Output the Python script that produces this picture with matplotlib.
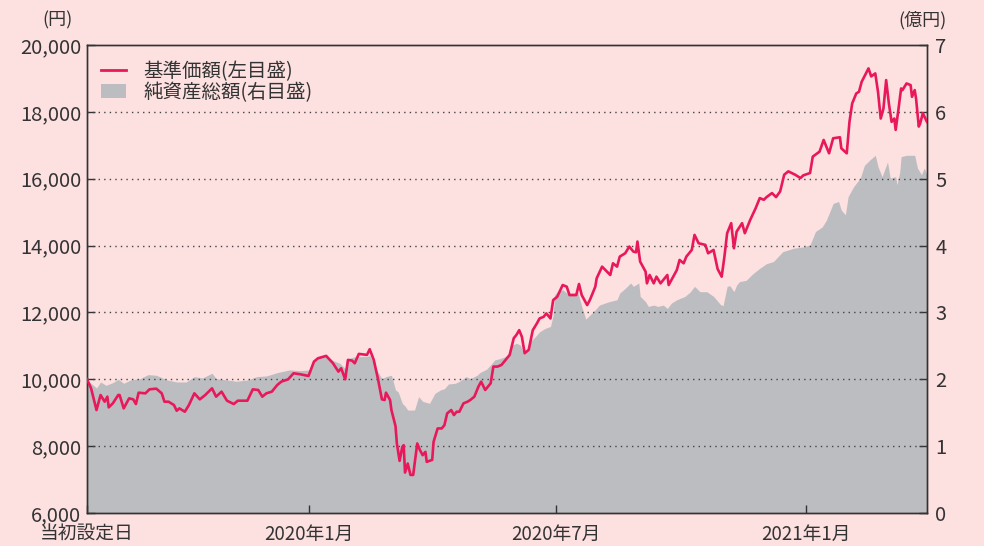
import matplotlib
matplotlib.use("Agg")
import matplotlib.pyplot as plt
import matplotlib.dates as mdates
from matplotlib.patches import Patch
from matplotlib.lines import Line2D
import pandas as pd

plt.rcParams['font.family'] = ['Noto Sans CJK JP', 'DejaVu Sans']

start_date = "2019-07-22"

# 基準価額 (円): day offset from 当初設定日, value
nav_days = [0, 3, 7, 10, 13, 15, 16, 19, 23, 24, 27, 31, 34, 36, 38, 43, 46, 51, 55, 57,
            60, 64, 66, 68, 72, 75, 79, 83, 87, 92, 95, 99, 103, 108, 111, 118, 122, 126, 129, 132,
            136, 140, 143, 148, 152, 157, 163, 167, 170, 176, 181, 185, 187, 190, 192, 195, 197, 200, 206, 208,
            211, 214, 217, 219, 220, 223, 224, 227, 228, 230, 232, 233, 234, 236, 238, 240, 243, 245, 247, 249,
            250, 254, 255, 258, 261, 263, 265, 268, 270, 272, 274, 277, 280, 282, 285, 288, 290, 293, 297, 299,
            302, 305, 308, 311, 314, 316, 318, 320, 322, 325, 328, 331, 333, 336, 338, 341, 343, 346, 350, 353,
            355, 360, 362, 364, 368, 370, 374, 375, 379, 385, 387, 390, 392, 396, 399, 402, 404, 405, 407, 411,
            412, 414, 417, 419, 422, 427, 428, 434, 436, 439, 441, 445, 447, 450, 455, 457, 461, 464, 467, 469,
            471, 474, 476, 478, 482, 484, 488, 492, 495, 498, 500, 504, 507, 510, 513, 516, 521, 525, 527, 532,
            533, 534, 539, 542, 544, 546, 549, 554, 555, 559, 561, 563, 566, 568, 570, 572, 575, 577, 580, 582,
            584, 586, 588, 590, 592, 594, 595, 597, 599, 600, 603, 606, 607, 609, 610, 612, 613, 615, 618]
nav_values = [10000, 9730, 9080, 9530, 9330, 9480, 9160, 9280, 9530, 9530, 9130, 9430, 9400, 9260, 9600, 9580, 9700, 9720, 9580, 9330,
              9330, 9230, 9060, 9130, 9030, 9230, 9580, 9400, 9530, 9730, 9480, 9630, 9360, 9260, 9360, 9360, 9700, 9680, 9480, 9580,
              9630, 9830, 9930, 10000, 10180, 10150, 10100, 10530, 10630, 10700, 10480, 10230, 10330, 10000, 10580, 10560, 10480, 10760, 10730, 10900,
              10580, 10030, 9400, 9380, 9600, 9380, 9080, 8600, 8080, 7560, 7980, 8030, 7210, 7480, 7140, 7140, 8080, 7880, 7730, 7830,
              7530, 7590, 8130, 8530, 8530, 8630, 8980, 9080, 8930, 9030, 9030, 9280, 9330, 9380, 9480, 9780, 9930, 9680, 9880, 10380,
              10380, 10430, 10580, 10730, 11230, 11330, 11470, 11270, 10780, 10880, 11470, 11670, 11820, 11870, 11970, 11820, 12370, 12470, 12820, 12770,
              12520, 12520, 12850, 12520, 12220, 12370, 12770, 13020, 13370, 13120, 13470, 13370, 13670, 13770, 13970, 13820, 13800, 14120, 13520, 13220,
              12870, 13120, 12870, 13070, 12870, 13120, 12820, 13270, 13570, 13470, 13670, 13870, 14320, 14070, 14020, 13770, 13870, 13300, 13070, 13670,
              14370, 14670, 13920, 14420, 14670, 14370, 14770, 15120, 15420, 15370, 15450, 15570, 15450, 15620, 16120, 16220, 16120, 16020, 16100, 16170,
              16410, 16660, 16810, 17160, 16960, 16760, 17210, 17240, 16910, 16760, 17700, 18250, 18550, 18600, 18900, 19060, 19300, 19060, 19150, 18600,
              17800, 18100, 18950, 18250, 17700, 17800, 17460, 18060, 18700, 18650, 18850, 18800, 18450, 18650, 18400, 17560, 17650, 17960, 17700]

# 純資産総額 (億円): day offset from 当初設定日, value
aum_days = [0, 3, 7, 10, 14, 19, 23, 27, 32, 39, 45, 51, 59, 66, 73, 79, 85, 92, 95, 103,
            110, 118, 125, 132, 140, 149, 157, 164, 167, 171, 176, 181, 186, 190, 192, 198, 206, 208, 211, 213,
            217, 220, 224, 227, 229, 232, 234, 236, 241, 244, 247, 252, 256, 260, 263, 266, 271, 274, 279, 282,
            287, 289, 294, 298, 300, 304, 308, 311, 313, 316, 319, 321, 324, 326, 330, 333, 337, 341, 343, 344,
            346, 350, 353, 358, 361, 364, 367, 370, 374, 377, 384, 390, 392, 396, 400, 402, 406, 407, 411, 413,
            417, 420, 424, 427, 430, 434, 440, 444, 447, 451, 456, 461, 466, 468, 471, 473, 476, 478, 480, 485,
            490, 495, 500, 505, 512, 520, 527, 532, 536, 541, 544, 549, 553, 555, 558, 560, 564, 569, 572, 576,
            580, 582, 585, 589, 591, 595, 596, 598, 599, 603, 609, 611, 614, 616, 618]
aum_values = [2.00, 1.94, 1.87, 1.96, 1.91, 1.95, 2.00, 1.94, 1.99, 2.01, 2.07, 2.06, 1.99, 1.96, 1.96, 2.04, 2.02, 2.09, 2.01, 1.99,
              1.97, 1.99, 2.04, 2.05, 2.10, 2.14, 2.13, 2.14, 2.26, 2.34, 2.36, 2.28, 2.24, 2.16, 2.31, 2.34, 2.34, 2.36, 2.24, 2.14,
              2.01, 2.04, 2.06, 1.84, 1.81, 1.64, 1.60, 1.54, 1.54, 1.74, 1.67, 1.64, 1.79, 1.84, 1.86, 1.93, 1.94, 1.97, 2.04, 2.01,
              2.06, 2.10, 2.15, 2.24, 2.29, 2.31, 2.34, 2.39, 2.51, 2.54, 2.51, 2.39, 2.44, 2.56, 2.64, 2.71, 2.76, 2.79, 2.96, 3.26,
              3.31, 3.34, 3.29, 3.29, 3.31, 3.09, 2.90, 2.96, 3.04, 3.11, 3.16, 3.19, 3.29, 3.36, 3.44, 3.39, 3.44, 3.24, 3.16, 3.09,
              3.11, 3.09, 3.11, 3.06, 3.14, 3.19, 3.24, 3.31, 3.39, 3.31, 3.31, 3.24, 3.12, 3.10, 3.39, 3.40, 3.31, 3.41, 3.46, 3.48,
              3.58, 3.66, 3.73, 3.76, 3.91, 3.96, 3.98, 4.01, 4.21, 4.28, 4.38, 4.63, 4.66, 4.53, 4.46, 4.73, 4.88, 5.01, 5.20, 5.28,
              5.35, 5.18, 5.03, 5.25, 5.01, 5.03, 4.91, 5.10, 5.33, 5.35, 5.35, 5.16, 5.06, 5.16, 5.06]

tick_dates = ["2019-07-22", "2020-01-01", "2020-07-01", "2021-01-01"]
tick_labels = ["当初設定日", "2020年1月", "2020年7月", "2021年1月"]
left_ticks = [6000, 8000, 10000, 12000, 14000, 16000, 18000, 20000]
right_ticks = [0, 1, 2, 3, 4, 5, 6, 7]

series_names = ["基準価額(左目盛)", "純資産総額(右目盛)"]

t0 = pd.Timestamp(start_date)
nav_x = t0 + pd.to_timedelta(nav_days, unit="D")
aum_x = t0 + pd.to_timedelta(aum_days, unit="D")

bg = "#fde0e0"
line_color = "#e8185a"
area_color = "#bcbdc1"
text_color = "#333333"

fig = plt.figure(figsize=(9.84, 5.46), dpi=100, facecolor=bg)
ax = fig.add_axes([0.0884, 0.0604, 0.8536, 0.8572])
ax2 = ax.twinx()

ax2.fill_between(aum_x, 0, aum_values, color=area_color, linewidth=0)
ax2.set_ylim(0, 7)
ax2.set_yticks(right_ticks)
ax2.set_yticklabels([str(v) for v in right_ticks])

ax.set_zorder(ax2.get_zorder() + 1)
ax.patch.set_visible(False)
ax2.set_facecolor("white")

ax.plot(nav_x, nav_values, color=line_color, linewidth=1.9, zorder=3, solid_joinstyle="round")
ax.set_ylim(6000, 20000)
ax.set_yticks(left_ticks)
ax.set_yticklabels([f"{v:,}" for v in left_ticks])
ax.set_xlim(t0, aum_x[-1])
ax.set_xticks(pd.to_datetime(tick_dates))
ax.set_xticklabels(tick_labels)

for g in left_ticks[1:-1]:
    ax.axhline(g, color="#444444", linestyle=(0, (1, 3)), linewidth=1.0, zorder=2)

for a in (ax, ax2):
    for s in a.spines.values():
        s.set_color("#333333")
        s.set_linewidth(1.0)
    a.tick_params(direction="in", length=6, width=1, colors="#333333",
                  labelcolor=text_color, labelsize=14.5, pad=5)
ax.tick_params(axis="y", pad=4)
ax2.tick_params(axis="y", pad=6)
ax.tick_params(axis="x", labelsize=13.5, pad=8)

fig.text(0.058, 0.963, "(円)", ha="center", va="center", fontsize=13, color=text_color)
fig.text(0.937, 0.963, "(億円)", ha="center", va="center", fontsize=13, color=text_color)

handles = [Line2D([0], [0], color=line_color, linewidth=2),
           Patch(facecolor=area_color, edgecolor="none")]
leg = ax.legend(handles, series_names, loc="upper left", bbox_to_anchor=(0.0, 0.995),
                frameon=False, fontsize=14, handlelength=1.3, handletextpad=0.9,
                labelspacing=0.0, borderaxespad=0.3)
for t in leg.get_texts():
    t.set_color(text_color)

fig.savefig("out.png", dpi=100, facecolor=bg)
